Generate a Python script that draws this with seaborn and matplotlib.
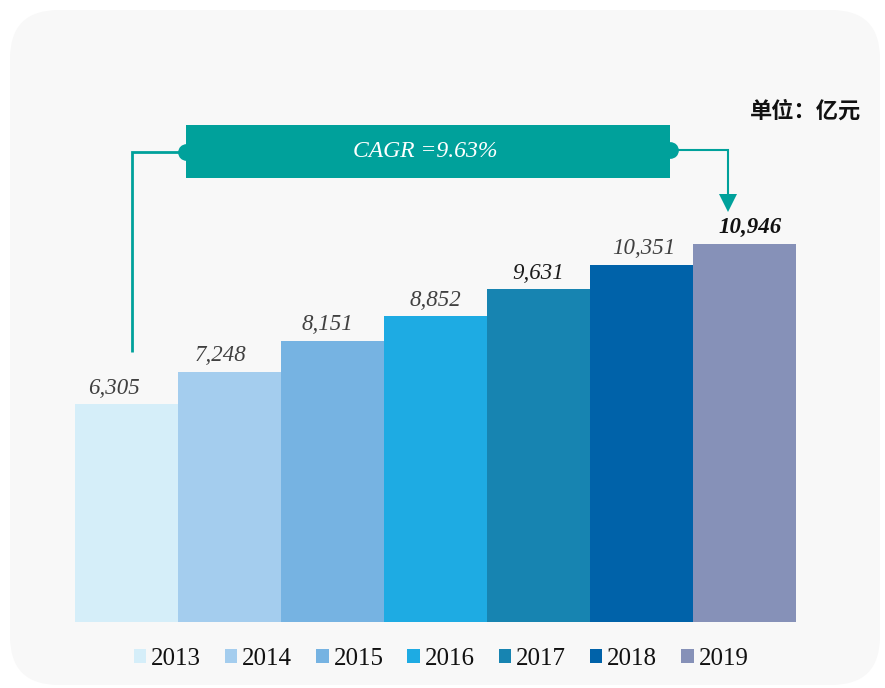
import matplotlib
matplotlib.use("Agg")
import matplotlib.pyplot as plt
import seaborn as sns
import pandas as pd
from matplotlib.patches import FancyBboxPatch, Rectangle, Patch

years = ["2013", "2014", "2015", "2016", "2017", "2018", "2019"]
values = [6305, 7248, 8151, 8852, 9631, 10351, 10946]
labels = ["6,305", "7,248", "8,151", "8,852", "9,631", "10,351", "10,946"]
colors = ["#d5eef9", "#a4cdee", "#76b3e2", "#1eabe3", "#1784b1", "#0062a9", "#8691b8"]
cagr_text = "CAGR =9.63%"
unit_text = "单位：亿元"
label_dx = [-9, -6.5, -3.5, 0, 0, 1.5, 4]  # small horizontal nudges (points)

sns.set_theme(style="white")
plt.rcParams["font.family"] = ["Liberation Serif", "DejaVu Serif"]

W, H = 885, 688
fig = plt.figure(figsize=(W / 100, H / 100), dpi=100)
fig.patch.set_facecolor("white")

# rounded light background panel
bg = FancyBboxPatch((10 / W, 3 / H), 870 / W, 675 / H,
                    boxstyle="round,pad=0,rounding_size=0.055",
                    transform=fig.transFigure, facecolor="#f8f8f8",
                    edgecolor="none", zorder=-5, mutation_aspect=W / H)
fig.patches.append(bg)

ax = fig.add_axes([75 / W, 1 - 622 / H, 721 / W, 522 / H])
ax.set_facecolor("none")
ax.set_zorder(2)

df = pd.DataFrame({"year": years, "value": values})
sns.barplot(data=df, x="year", y="value", hue="year", palette=colors,
            width=1.0, dodge=False, legend=False, ax=ax, saturation=1,
            linewidth=0, edgecolor="none")

ax.set_xlim(-0.5, len(years) - 0.5)
ax.set_ylim(0, 15116)
for s in ax.spines.values():
    s.set_visible(False)
ax.set_xticks([])
ax.set_yticks([])
ax.set_xlabel("")
ax.set_ylabel("")

# value labels
for i, (v, lab) in enumerate(zip(values, labels)):
    if i == len(values) - 1:
        col, wt = "#111111", "bold"
    elif i == 4:
        col, wt = "#1a1a1a", "normal"
    else:
        col, wt = "#404040", "normal"
    ax.annotate(lab, (i, v), xytext=(label_dx[i], 4), textcoords="offset points",
                ha="center", va="bottom", fontsize=16.5, style="italic",
                fontweight=wt, color=col)

teal = "#00a19b"
# CAGR box
box_x0, box_x1 = 0.578, 5.277
box_y0, box_y1 = 12857, 14392
ax.add_patch(Rectangle((box_x0, box_y0), box_x1 - box_x0, box_y1 - box_y0,
                       facecolor=teal, edgecolor="none", clip_on=False, zorder=3))
ax.text((box_x0 + box_x1) / 2 - 0.03, (box_y0 + box_y1) / 2, cagr_text, color="white",
        fontsize=17, style="italic", ha="center", va="center", zorder=4)

yl = 13610
yr = 13670
# left connector
left_x = 0 + 0.05
ax.plot([box_x0, left_x, left_x], [yl, yl, values[0] + 1500], color=teal, lw=2,
        clip_on=False, zorder=2, solid_capstyle="butt", solid_joinstyle="miter")
ax.plot([box_x0], [yl], "o", color=teal, ms=11, clip_on=False, zorder=2)
# right connector with arrow
right_x = len(values) - 1 - 0.16
ax.plot([box_x1, right_x, right_x], [yr, yr, values[-1] + 1300], color=teal, lw=1.5,
        clip_on=False, zorder=2, solid_joinstyle="miter")
ax.plot([box_x1], [yr], "o", color=teal, ms=11, clip_on=False, zorder=2)
ax.plot([right_x], [values[-1] + 1180], marker="v", color=teal, ms=13,
        clip_on=False, zorder=2, markeredgewidth=0)

# unit text
fig.text(861 / W, 1 - 111 / H, unit_text, ha="right", va="center", fontsize=16,
         fontweight="bold", color="#111111",
         family=["Noto Sans CJK SC", "DejaVu Sans"])

# legend
handles = [Patch(facecolor=c, edgecolor="none", label=y) for c, y in zip(colors, years)]
fig.legend(handles=handles, loc="center", bbox_to_anchor=(441 / W, 1 - 659 / H),
           ncol=len(years), frameon=False, fontsize=18, handlelength=0.5,
           handleheight=0.5, handletextpad=0.2, columnspacing=0.95,
           labelcolor="#111111")

fig.savefig("out.png", dpi=100, facecolor=fig.get_facecolor())
